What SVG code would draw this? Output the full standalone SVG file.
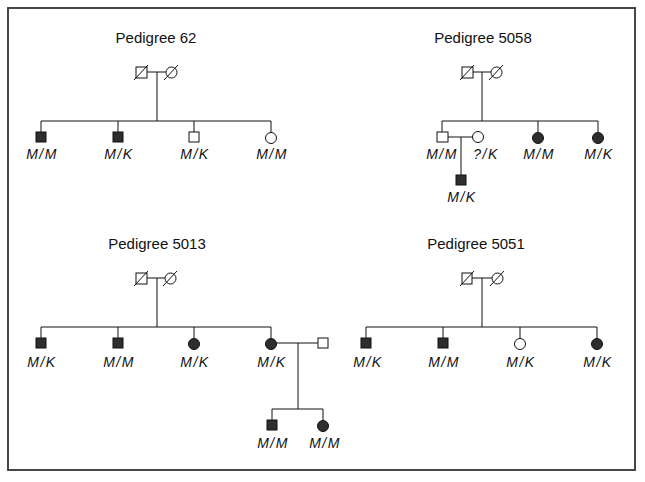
<svg xmlns="http://www.w3.org/2000/svg" width="645" height="482" viewBox="0 0 645 482">
<style>
.t{font-family:"Liberation Sans",Arial,sans-serif;font-size:15px;fill:#111;text-anchor:middle}
.l{font-family:"Liberation Sans",Arial,sans-serif;font-size:14px;font-style:italic;fill:#111;text-anchor:middle;letter-spacing:1.5px}
.ln{stroke:#111;stroke-width:1;fill:none}
.o{fill:#fff;stroke:#111;stroke-width:1}
.f{fill:#2e2e2e;stroke:#111;stroke-width:1}
.d{stroke:#111;stroke-width:1}
</style>
<rect x="0" y="0" width="645" height="482" fill="#fff"/>
<rect x="8" y="8" width="627" height="462" fill="none" stroke="#333" stroke-width="1.8"/>

<g id="connectors">
<!-- Pedigree 62 -->
<path class="ln" d="M147 72H166M157 72V121M41 121H271M41 121V132M118 121V132M194 121V132M271 121V132.5"/>
<!-- Pedigree 5058 -->
<path class="ln" d="M473 72H491M482 72V121M442 121H598M442 121V132M538 121V132.5M598 121V132.5M448 137H472.5M461 137V175"/>
<!-- Pedigree 5013 -->
<path class="ln" d="M147 278H165M157 278V327M41 327H271M41 327V338M118 327V338M194 327V338M271 327V338.5M276.5 343H318M298 343V409M272 409H323M272 409V420M323 409V420.5"/>
<!-- Pedigree 5051 -->
<path class="ln" d="M472 278H492M482 278V327M366 327H597M366 327V338M443 327V338M520 327V338.5M597 327V338.5"/>
</g>

<g id="ped62">
<text class="t" x="156" y="43">Pedigree 62</text>
<g id="p62-father"><rect class="o" x="136" y="67" width="11" height="11"/><line class="d" x1="134" y1="80" x2="148" y2="65"/></g>
<g id="p62-mother"><circle class="o" cx="171.5" cy="72.5" r="5.5"/><line class="d" x1="164" y1="80" x2="178" y2="65"/></g>
<g id="p62-c1"><rect class="f" x="36" y="132" width="10" height="10"/><text class="l" x="42" y="159">M/M</text></g>
<g id="p62-c2"><rect class="f" x="113" y="132" width="10" height="10"/><text class="l" x="119" y="159">M/K</text></g>
<g id="p62-c3"><rect class="o" x="189" y="132" width="10" height="10"/><text class="l" x="195" y="159">M/K</text></g>
<g id="p62-c4"><circle class="o" cx="271" cy="138" r="5.5"/><text class="l" x="272" y="159">M/M</text></g>
</g>

<g id="ped5058">
<text class="t" x="483" y="43">Pedigree 5058</text>
<g id="p5058-father"><rect class="o" x="462" y="67" width="11" height="11"/><line class="d" x1="460" y1="80" x2="474" y2="65"/></g>
<g id="p5058-mother"><circle class="o" cx="496.5" cy="72.5" r="5.5"/><line class="d" x1="489" y1="80" x2="503" y2="65"/></g>
<g id="p5058-c1"><rect class="o" x="437" y="132" width="11" height="10"/><text class="l" x="442" y="159">M/M</text></g>
<g id="p5058-sp"><circle class="o" cx="478" cy="137" r="5.5"/><text class="l" x="486" y="159">?/K</text></g>
<g id="p5058-c2"><circle class="f" cx="538" cy="138" r="5.5"/><text class="l" x="539" y="159">M/M</text></g>
<g id="p5058-c3"><circle class="f" cx="598" cy="138" r="5.5"/><text class="l" x="599" y="159">M/K</text></g>
<g id="p5058-gc"><rect class="f" x="456" y="175" width="10" height="10"/><text class="l" x="462" y="202">M/K</text></g>
</g>

<g id="ped5013">
<text class="t" x="157" y="249">Pedigree 5013</text>
<g id="p5013-father"><rect class="o" x="136" y="273" width="11" height="11"/><line class="d" x1="134" y1="286" x2="148" y2="271"/></g>
<g id="p5013-mother"><circle class="o" cx="170.5" cy="278.5" r="5.5"/><line class="d" x1="163" y1="286" x2="177" y2="271"/></g>
<g id="p5013-c1"><rect class="f" x="36" y="338" width="10" height="10"/><text class="l" x="42" y="367">M/K</text></g>
<g id="p5013-c2"><rect class="f" x="113" y="338" width="10" height="10"/><text class="l" x="119" y="367">M/M</text></g>
<g id="p5013-c3"><circle class="f" cx="194" cy="344" r="5.5"/><text class="l" x="195" y="367">M/K</text></g>
<g id="p5013-c4"><circle class="f" cx="271" cy="344" r="5.5"/><text class="l" x="272" y="367">M/K</text></g>
<g id="p5013-sp"><rect class="o" x="318" y="338" width="10" height="10"/></g>
<g id="p5013-gc1"><rect class="f" x="267" y="420" width="10" height="10"/><text class="l" x="273" y="448">M/M</text></g>
<g id="p5013-gc2"><circle class="f" cx="323" cy="426" r="5.5"/><text class="l" x="325" y="448">M/M</text></g>
</g>

<g id="ped5051">
<text class="t" x="476" y="249">Pedigree 5051</text>
<g id="p5051-father"><rect class="o" x="462" y="273" width="10" height="11"/><line class="d" x1="460" y1="286" x2="474" y2="271"/></g>
<g id="p5051-mother"><circle class="o" cx="497.5" cy="278.5" r="5.5"/><line class="d" x1="490" y1="286" x2="504" y2="271"/></g>
<g id="p5051-c1"><rect class="f" x="361" y="338" width="10" height="10"/><text class="l" x="368" y="367">M/K</text></g>
<g id="p5051-c2"><rect class="f" x="438" y="338" width="10" height="10"/><text class="l" x="444" y="367">M/M</text></g>
<g id="p5051-c3"><circle class="o" cx="520" cy="344" r="5.5"/><text class="l" x="521" y="367">M/K</text></g>
<g id="p5051-c4"><circle class="f" cx="597" cy="344" r="5.5"/><text class="l" x="598" y="367">M/K</text></g>
</g>
</svg>
